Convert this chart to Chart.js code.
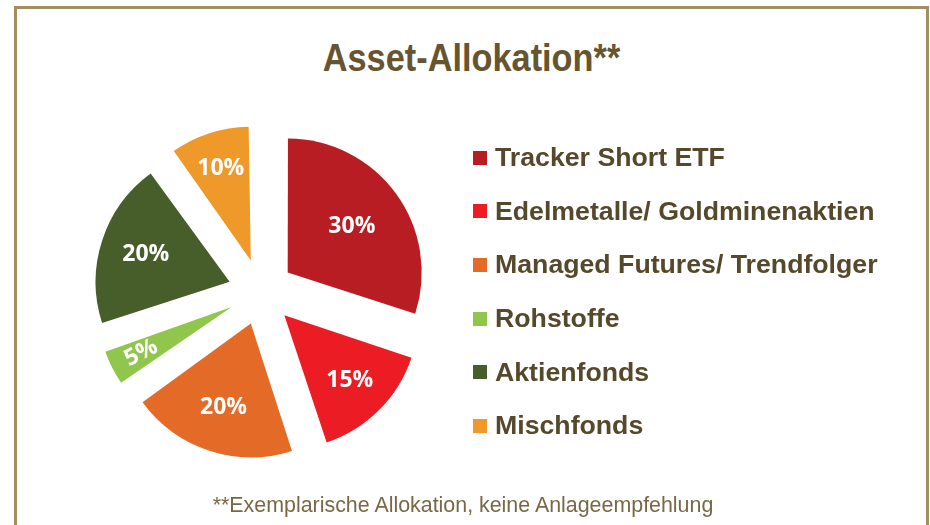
<!DOCTYPE html>
<html>
<head>
<meta charset="utf-8">
<title>Asset-Allokation</title>
<script src="https://cdn.jsdelivr.net/npm/chart.js@4.4.1/dist/chart.umd.min.js"></script>
<style>
  html, body { margin: 0; padding: 0; background: #fff; overflow: hidden; }
  body { position: relative; width: 930px; height: 525px; font-family: "Liberation Sans", Arial, sans-serif; }
  .frame { position: absolute; left: 14px; top: 6px; width: 915px; height: 600px; box-sizing: border-box; border: 3px solid #a38e60; }
  h1 { position: absolute; left: 0; top: 38px; width: 943px; margin: 0; font-size: 39px; line-height: 39px; font-weight: bold; color: #67552f; text-align: center; transform: scaleX(0.88); }
  .note { position: absolute; left: 0; top: 495px; width: 926px; margin: 0; font-size: 21.4px; line-height: 21px; color: #7a6844; text-align: center; }
  #pie { position: absolute; left: 0; top: 0; }
  #legend { position: absolute; left: 473px; top: 131px; margin: 0; padding: 0; list-style: none; }
  #legend li { display: flex; align-items: center; gap: 8px; height: 53.6px; font-size: 26.7px; font-weight: bold; color: #56482a; white-space: nowrap; }
  #legend .box { width: 14px; height: 14px; flex: none; }
</style>
</head>
<body>
<div class="frame"></div>
<h1>Asset-Allokation**</h1>
<canvas id="pie" width="930" height="525"></canvas>
<ul id="legend"></ul>
<p class="note">**Exemplarische Allokation, keine Anlageempfehlung</p>
<script>
const categories = ["Tracker Short ETF", "Edelmetalle/ Goldminenaktien", "Managed Futures/ Trendfolger", "Rohstoffe", "Aktienfonds", "Mischfonds"];
const shares = [30, 15, 20, 5, 20, 10];
const sliceColors = ["#b91d24", "#ec1c24", "#e36a27", "#8fc64b", "#475e2b", "#ef992a"];

const explode = 33; // how far every slice is pulled out of the pie

// chart.js grows thin exploded slices a bit, undo that so all slices keep one radius
const sameRadius = {
  id: "sameRadius",
  afterDatasetUpdate(chart, args) {
    const R = args.meta.controller.outerRadius;
    args.meta.data.forEach(arc => {
      const fix = 1 - Math.sin(Math.min(Math.PI, arc.circumference));
      arc.outerRadius = R - explode * fix;
    });
  }
};

// percent labels inside the slices
const sliceLabels = {
  id: "sliceLabels",
  afterDatasetsDraw(chart) {
    const ctx = chart.ctx;
    const meta = chart.getDatasetMeta(0);
    const R = meta.controller.outerRadius;
    ctx.save();
    ctx.font = "bold 23px 'Open Sans'";
    ctx.fillStyle = "#fff";
    ctx.textAlign = "center";
    ctx.textBaseline = "middle";
    meta.data.forEach((arc, i) => {
      const mid = (arc.startAngle + arc.endAngle) / 2;
      const d = explode + R * (0.79 - 0.21 * arc.circumference / 2);
      ctx.save();
      ctx.translate(arc.x + Math.cos(mid) * d, arc.y + Math.sin(mid) * d);
      if (arc.circumference < 0.5) ctx.rotate(mid + Math.PI); // too thin, write along the radius
      ctx.fillText(shares[i] + "%", 0, 0);
      ctx.restore();
    });
    ctx.restore();
  }
};

const chart = new Chart(document.getElementById("pie"), {
  type: "pie",
  data: {
    labels: categories,
    datasets: [{
      data: shares,
      backgroundColor: sliceColors,
      borderWidth: 0,
      offset: explode * 4,
      hoverOffset: 0,
      clip: false
    }]
  },
  options: {
    responsive: false,
    animation: false,
    events: [],
    radius: 134,
    layout: { padding: { left: 0, right: 408, top: 80, bottom: 21 } },
    plugins: {
      tooltip: { enabled: false },
      legend: { display: false }
    }
  },
  plugins: [sameRadius, sliceLabels]
});

// legend next to the pie, built from the chart's own legend items
const legendList = document.getElementById("legend");
chart.options.plugins.legend.labels.generateLabels(chart).forEach(item => {
  const li = document.createElement("li");
  const box = document.createElement("span");
  box.className = "box";
  box.style.background = item.fillStyle;
  li.append(box, item.text);
  legendList.append(li);
});
</script>
</body>
</html>
